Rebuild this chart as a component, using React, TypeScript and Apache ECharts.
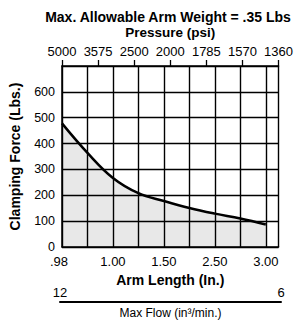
import React, { useEffect, useRef } from 'react';
import * as echarts from 'echarts';

// Bottom axis: arm length (grid positions 0..8, labels every other line)
const armLengthLabels = ['.98', '', '1.00', '', '1.50', '', '2.50', '', '3.00'];
// Clamping force (Lbs.) at each arm-length grid line
const clampingForce = [478, 364, 267, 208, 178, 151, 129, 110, 87];
// Top axis: pressure (psi)
const pressureLabels = ['5000', '3575', '2500', '2000', '1785', '1570', '1360'];
// Flow axis labels
const flowLabels = ['12', '6'];
// Y axis range
const yMax = 700;
const yStep = 100;

const FONT = 'Liberation Sans, Arial, Helvetica, sans-serif';

export default function App() {
  const ref = useRef<HTMLDivElement>(null);
  useEffect(() => {
    if (!ref.current) return;
    const chart = echarts.init(ref.current, undefined, { renderer: 'svg' });
    const armMax = armLengthLabels.length - 1 + 0.5;
    chart.setOption({
      animation: false,
      backgroundColor: '#fff',
      textStyle: { fontFamily: FONT, color: '#000' },
      title: {
        text: 'Max. Allowable Arm Weight = .35 Lbs',
        left: 163,
        textAlign: 'center',
        top: 5,
        textStyle: { fontFamily: FONT, fontSize: 14, fontWeight: 'bold', color: '#000' },
      },
      grid: [
        { left: 60, top: 66, width: 222, height: 181 },
        { left: 60, top: 301, width: 221, height: 1 },
      ],
      xAxis: [
        {
          gridIndex: 0,
          type: 'value',
          position: 'bottom',
          min: 0,
          max: armMax,
          interval: 1,
          axisLine: { show: true, lineStyle: { color: '#000', width: 1.5 } },
          axisTick: { show: false },
          splitLine: { show: true, showMinLine: true, showMaxLine: true, lineStyle: { color: '#000', width: 1.4 } },
          axisLabel: {
            fontSize: 13,
            color: '#000',
            fontFamily: FONT,
            margin: 8,
            showMaxLabel: false,
            formatter: (v: number) => {
              if (!Number.isInteger(v) || !armLengthLabels[v]) return '';
              return v === 0 ? '{m|' + armLengthLabels[v] + '}' : armLengthLabels[v];
            },
            rich: { m: { fontSize: 13, color: '#000', fontFamily: FONT, padding: [0, 6, 0, 0] } },
          },
          name: 'Arm Length (In.)',
          nameLocation: 'middle',
          nameGap: 26,
          nameTextStyle: { fontSize: 14, fontWeight: 'bold', color: '#000', fontFamily: FONT },
        },
        {
          gridIndex: 0,
          type: 'value',
          position: 'top',
          min: 0,
          max: pressureLabels.length - 1,
          interval: 1,
          axisLine: { show: true, lineStyle: { color: '#000', width: 1.5 } },
          axisTick: { show: true, inside: false, length: 6, lineStyle: { color: '#000', width: 1.3 } },
          splitLine: { show: false },
          axisLabel: {
            fontSize: 13,
            color: '#000',
            fontFamily: FONT,
            margin: 8,
            formatter: (v: number) => pressureLabels[v] ?? '',
          },
          name: 'Pressure (psi)',
          nameLocation: 'middle',
          nameGap: 27,
          nameTextStyle: { fontSize: 13.5, fontWeight: 'bold', color: '#000', fontFamily: FONT },
        },
        {
          gridIndex: 1,
          type: 'value',
          position: 'bottom',
          min: 0,
          max: flowLabels.length - 1,
          interval: 1,
          axisLine: { show: true, lineStyle: { color: '#000', width: 2 } },
          axisTick: { show: false },
          splitLine: { show: false },
          axisLabel: {
            inside: true,
            fontSize: 13,
            color: '#000',
            fontFamily: FONT,
            margin: 3,
            formatter: (v: number) => flowLabels[v] ?? '',
          },
          name: 'Max Flow (in³/min.)',
          nameLocation: 'middle',
          nameGap: 5,
          nameTextStyle: { fontSize: 12, color: '#000', fontFamily: FONT, verticalAlign: 'top' },
        },
      ],
      yAxis: [
        {
          gridIndex: 0,
          type: 'value',
          position: 'left',
          min: 0,
          max: yMax,
          interval: yStep,
          axisLine: { show: true, lineStyle: { color: '#000', width: 1.5 } },
          axisTick: { show: false },
          splitLine: { show: true, lineStyle: { color: '#000', width: 1.4 } },
          axisLabel: {
            fontSize: 12.5,
            color: '#000',
            fontFamily: FONT,
            margin: 7,
            formatter: (v: number) => (v === yMax ? '' : String(v)),
          },
          name: 'Clamping Force (Lbs.)',
          nameLocation: 'middle',
          nameGap: 40,
          nameTextStyle: { fontSize: 14, fontWeight: 'bold', color: '#000', fontFamily: FONT },
        },
        { gridIndex: 1, type: 'value', show: false },
      ],
      series: [
        {
          type: 'line',
          xAxisIndex: 0,
          yAxisIndex: 0,
          smooth: 0.4,
          symbol: 'none',
          z: 3,
          data: clampingForce.map((v, i) => [i, v]),
          lineStyle: { color: '#000', width: 2.5 },
          areaStyle: { color: '#000', opacity: 0.09 },
        },
      ],
    });
    return () => chart.dispose();
  }, []);
  return <div ref={ref} style={{ position: 'absolute', left: 0, top: 0, width: 296, height: 320 }} />;
}
